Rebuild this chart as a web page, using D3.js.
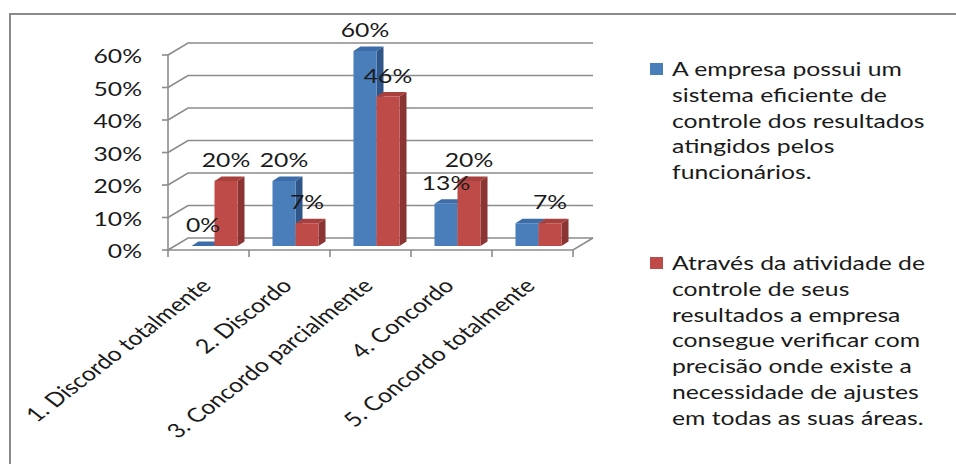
<!DOCTYPE html>
<html>
<head>
<meta charset="utf-8">
<script src="https://cdn.jsdelivr.net/npm/d3@7"></script>
<style>
  html, body { margin: 0; padding: 0; background: #fff; }
  svg { display: block; }
  text { font-family: Lato, "Open Sans", sans-serif; fill: #1a1a1a; }
</style>
</head>
<body>
<svg id="chart" width="956" height="464"></svg>
<script>
// Survey answers (Likert scale)
const categories = [
  "1. Discordo totalmente",
  "2. Discordo",
  "3. Concordo parcialmente",
  "4. Concordo",
  "5. Concordo totalmente"
];
const seriesNames = ["A", "B"];
const valuesA = [0.00, 0.20, 0.60, 0.13, 0.07];
const valuesB = [0.20, 0.07, 0.46, 0.20, 0.07];
const showLabelA = [true, true, true, true, false];
const showLabelB = [true, true, true, true, true];
const yTicks = [0, 0.1, 0.2, 0.3, 0.4, 0.5, 0.6];
const legendA = [
  "A empresa possui um",
  "sistema eficiente de",
  "controle dos resultados",
  "atingidos pelos",
  "funcionários."
];
const legendB = [
  "Através da atividade de",
  "controle de seus",
  "resultados a empresa",
  "consegue verificar com",
  "precisão onde existe a",
  "necessidade de ajustes",
  "em todas as suas áreas."
];

const svg = d3.select("#chart");
const STRETCH = 1.29;          // horizontal stretch of the drawing
const FS = 20;                 // font size

// measure the font so glyph widths follow the layout
const probe = svg.append("text").attr("font-size", FS).text(legendA[0]);
const probeW = probe.node().getComputedTextLength();
probe.remove();
const K = 230 / (STRETCH * probeW);   // font width factor
const SX = STRETCH * K;

const colors = {
  A: { front: "#4a7ebb", top: "#3d6da8", side: "#2e5689" },
  B: { front: "#be4b48", top: "#a8403d", side: "#8a3533" }
};
const gridColor = "#8c8c8c";

// floor / wall depth of the 3D box
const DEPTH = { dx: 20, dy: -12 };
// bars sit inside the depth
const BAR_OFF = { dx: 6, dy: -4 };
const BAR_DEPTH = { dx: 7, dy: -4.5 };

const x = d3.scaleBand().domain(categories).range([168, 573]).paddingInner(0).paddingOuter(0);
const xs = d3.scaleBand().domain(seriesNames).range([0, x.bandwidth()]).paddingInner(0).paddingOuter(0.76);
const y = d3.scaleLinear().domain([0, 0.6]).range([250, 55]);
const fmt = d3.format(".0%");

// frame
svg.append("path")
  .attr("d", "M10,464 L10,14 L956,14")
  .attr("fill", "none").attr("stroke", "#8a8a8a").attr("stroke-width", 2);

// back wall gridlines and left wall diagonals
const grid = svg.append("g").attr("stroke", gridColor).attr("stroke-width", 1.6).attr("fill", "none");
yTicks.forEach(t => {
  const yy = y(t);
  grid.append("path").attr("d",
    `M${x.range()[0]},${yy} L${x.range()[0] + DEPTH.dx},${yy + DEPTH.dy} L${x.range()[1] + DEPTH.dx},${yy + DEPTH.dy}`);
});
// floor right edge and front edge
grid.append("path").attr("d",
  `M${x.range()[0]},${y(0)} L${x.range()[1]},${y(0)} L${x.range()[1] + DEPTH.dx},${y(0) + DEPTH.dy}`);

// value axis
const yAxis = svg.append("g");
yAxis.append("line")
  .attr("x1", x.range()[0]).attr("x2", x.range()[0])
  .attr("y1", y(0)).attr("y2", y(0.6))
  .attr("stroke", gridColor).attr("stroke-width", 1.6);
yTicks.forEach(t => {
  yAxis.append("line")
    .attr("x1", x.range()[0] - 6).attr("x2", x.range()[0])
    .attr("y1", y(t)).attr("y2", y(t))
    .attr("stroke", gridColor).attr("stroke-width", 1.6);
  yAxis.append("text")
    .attr("font-size", FS)
    .attr("text-anchor", "end")
    .attr("transform", `translate(142,${y(t) + 8}) scale(${SX},1)`)
    .text(fmt(t));
});

// category ticks
const edges = categories.map(c => x(c)).concat([x.range()[1]]);
edges.forEach(e => {
  svg.append("line")
    .attr("x1", e).attr("x2", e).attr("y1", y(0)).attr("y2", y(0) + 7)
    .attr("stroke", gridColor).attr("stroke-width", 1.6);
});

// 3D bars
const barsG = svg.append("g");
const baseY = y(0) + BAR_OFF.dy;
function drawBar(cat, key, v) {
  const x0 = x(cat) + xs(key) + BAR_OFF.dx;
  const w = xs.bandwidth();
  const yt = y(v) + BAR_OFF.dy;
  const c = colors[key];
  const dx = BAR_DEPTH.dx, dy = BAR_DEPTH.dy;
  const g = barsG.append("g");
  // side face
  g.append("path").attr("fill", c.side)
    .attr("d", `M${x0 + w},${yt} L${x0 + w + dx},${yt + dy} L${x0 + w + dx},${baseY + dy} L${x0 + w},${baseY} Z`);
  // top face
  g.append("path").attr("fill", c.top)
    .attr("d", `M${x0},${yt} L${x0 + dx},${yt + dy} L${x0 + w + dx},${yt + dy} L${x0 + w},${yt} Z`);
  // front face
  g.append("rect").attr("fill", c.front)
    .attr("x", x0).attr("y", yt).attr("width", w).attr("height", baseY - yt);
}
categories.forEach((cat, i) => {
  drawBar(cat, "A", valuesA[i]);
  drawBar(cat, "B", valuesB[i]);
});

// value labels
const labG = svg.append("g");
categories.forEach((cat, i) => {
  [["A", valuesA[i], showLabelA[i]], ["B", valuesB[i], showLabelB[i]]].forEach(([key, v, show]) => {
    if (!show) return;
    const cx = x(cat) + xs(key) + BAR_OFF.dx + xs.bandwidth() / 2;
    labG.append("text")
      .attr("font-size", FS)
      .attr("text-anchor", "middle")
      .attr("transform", `translate(${cx},${y(v) + BAR_OFF.dy - 14}) scale(${SX},1)`)
      .text(fmt(v));
  });
});

// category labels, rotated
categories.forEach(cat => {
  const px = x(cat) + x.bandwidth() / 2 + 4;
  svg.append("text")
    .attr("font-size", FS)
    .attr("text-anchor", "end")
    .attr("transform", `translate(${px},287) scale(${STRETCH},1) rotate(-45) scale(${K},1)`)
    .text(cat);
});

// legend
function legendBlock(lines, key, top) {
  const g = svg.append("g");
  g.append("rect").attr("x", 650).attr("y", top - 13).attr("width", 13).attr("height", 12)
    .attr("fill", colors[key].front);
  lines.forEach((ln, i) => {
    g.append("text")
      .attr("font-size", FS)
      .attr("transform", `translate(672,${top + i * 25.8}) scale(${SX},1)`)
      .text(ln);
  });
}
legendBlock(legendA, "A", 76);
legendBlock(legendB, "B", 270);
</script>
</body>
</html>
